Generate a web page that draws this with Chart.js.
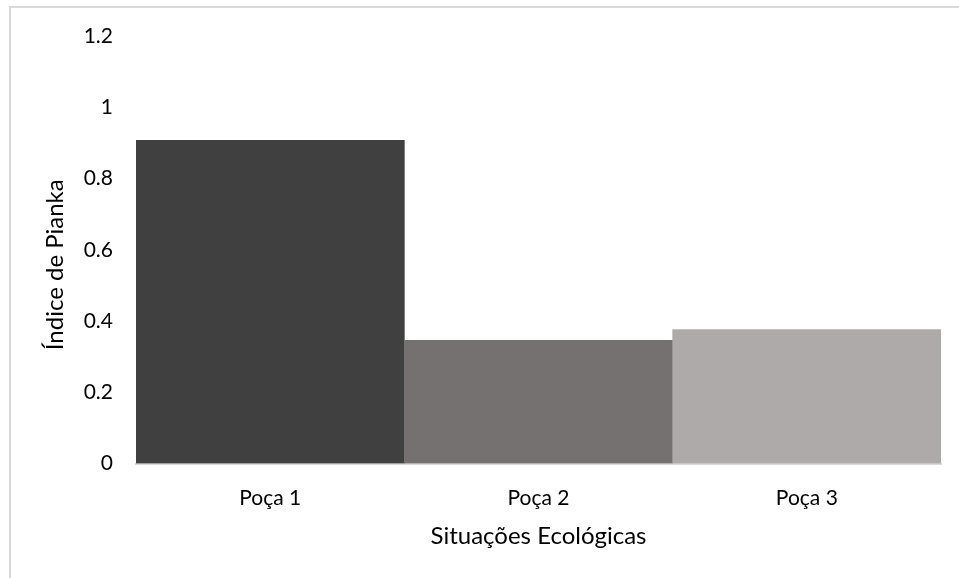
<!DOCTYPE html>
<html>
<head>
<meta charset="utf-8">
<script src="https://cdn.jsdelivr.net/npm/chart.js@4/dist/chart.umd.min.js"></script>
<style>
  html, body { margin: 0; padding: 0; background: #ffffff; overflow: hidden; }
  canvas { display: block; }
</style>
</head>
<body>
<canvas id="chart" width="959" height="578"></canvas>
<script>
// Pianka overlap index per pool
const categories = ['Poça 1', 'Poça 2', 'Poça 3'];
const piankaValues = [0.907, 0.346, 0.376];
const barColors = ['#404040', '#767171', '#aeaaaa'];
const yTickValues = [0, 0.2, 0.4, 0.6, 0.8, 1, 1.2];
const xAxisTitle = 'Situações Ecológicas';
const yAxisTitle = 'Índice de Pianka';

const FONT = 'Lato';
const TEXT_COLOR = '#000000';

// White page with the thin frame along the top and left edges
const framePlugin = {
  id: 'frame',
  beforeDraw(chart) {
    const ctx = chart.ctx;
    ctx.save();
    ctx.fillStyle = '#ffffff';
    ctx.fillRect(0, 0, chart.width, chart.height);
    ctx.fillStyle = '#d9d9d9';
    ctx.fillRect(9, 6, chart.width - 9, 2);
    ctx.fillRect(9, 6, 2, chart.height - 6);
    ctx.restore();
  }
};

// Vertical axis title, rotated, placed beside the tick labels
const yTitlePlugin = {
  id: 'yTitle',
  afterDraw(chart) {
    const ctx = chart.ctx;
    const area = chart.chartArea;
    ctx.save();
    ctx.translate(55, area.top + (area.bottom - area.top) / 2 + 15);
    ctx.rotate(-Math.PI / 2);
    ctx.font = '24px ' + FONT;
    ctx.fillStyle = TEXT_COLOR;
    ctx.textAlign = 'center';
    ctx.textBaseline = 'middle';
    ctx.fillText(yAxisTitle, 0, 0);
    ctx.restore();
  }
};

new Chart(document.getElementById('chart'), {
  type: 'bar',
  data: {
    labels: categories,
    datasets: [{
      data: piankaValues,
      backgroundColor: barColors,
      borderWidth: 0,
      categoryPercentage: 1,
      barPercentage: 1
    }]
  },
  options: {
    responsive: false,
    animation: false,
    devicePixelRatio: 1,
    layout: { padding: { left: 0, top: 36, right: 18, bottom: 0 } },
    plugins: {
      legend: { display: false },
      tooltip: { enabled: false }
    },
    scales: {
      x: {
        grid: { display: false, drawTicks: false },
        border: { display: true, color: '#d9d9d9', width: 2 },
        ticks: {
          padding: 22,
          color: TEXT_COLOR,
          font: { family: FONT, size: 21 }
        },
        title: {
          display: true,
          text: xAxisTitle,
          color: TEXT_COLOR,
          font: { family: FONT, size: 24 },
          padding: { top: 4, bottom: 27 }
        },
        afterFit(scale) { scale.height = 114.5; }
      },
      y: {
        min: 0,
        max: 1.2,
        grid: { display: false, drawTicks: false },
        border: { display: false },
        ticks: {
          padding: 23,
          color: TEXT_COLOR,
          font: { family: FONT, size: 21 },
          callback: (v) => String(Math.round(v * 10) / 10)
        },
        afterBuildTicks(scale) {
          scale.ticks = yTickValues.map((v) => ({ value: v }));
        },
        afterFit(scale) { scale.width = 136; }
      }
    }
  },
  plugins: [framePlugin, yTitlePlugin]
});
</script>
</body>
</html>
